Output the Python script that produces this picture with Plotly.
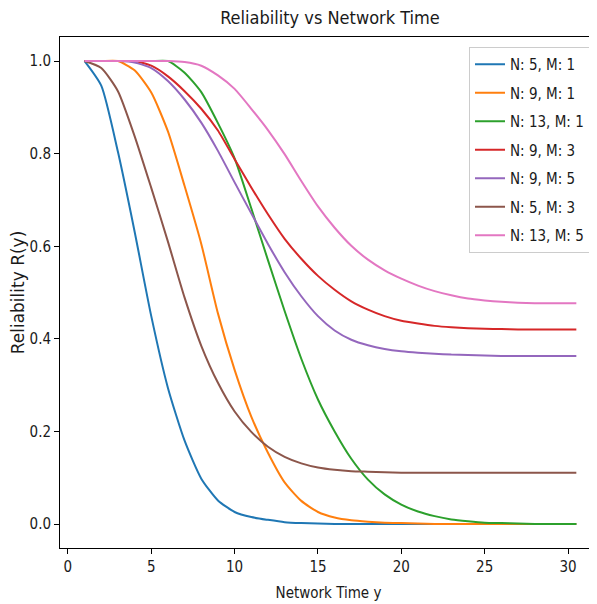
import plotly.graph_objects as go

# Network time values (x axis)
x_vals = list(range(1, 31)) + [30.5]

labels = ["N: 5, M: 1", "N: 9, M: 1", "N: 13, M: 1", "N: 9, M: 3",
          "N: 9, M: 5", "N: 5, M: 3", "N: 13, M: 5"]

r_n5_m1 = [1.0, 0.947, 0.804, 0.632, 0.449, 0.294, 0.180, 0.098, 0.051, 0.026,
           0.015, 0.009, 0.004, 0.002, 0.001, 0.0, 0.0, 0.0, 0.0, 0.0,
           0.0, 0.0, 0.0, 0.0, 0.0, 0.0, 0.0, 0.0, 0.0, 0.0, 0.0]
r_n9_m1 = [1.0, 1.0, 1.0, 0.98, 0.932, 0.848, 0.73, 0.605, 0.455, 0.333,
           0.232, 0.154, 0.09, 0.05, 0.026, 0.014, 0.008, 0.005, 0.003, 0.002,
           0.001, 0.0, 0.0, 0.0, 0.0, 0.0, 0.0, 0.0, 0.0, 0.0, 0.0]
r_n13_m1 = [1.0, 1.0, 1.0, 1.0, 1.0, 1.0, 0.975, 0.933, 0.866, 0.79,
            0.682, 0.57, 0.46, 0.357, 0.269, 0.2, 0.141, 0.096, 0.064, 0.042,
            0.027, 0.017, 0.01, 0.006, 0.003, 0.002, 0.001, 0.0, 0.0, 0.0, 0.0]
r_n9_m3 = [1.0, 1.0, 1.0, 1.0, 0.99, 0.967, 0.935, 0.897, 0.85, 0.788,
           0.727, 0.669, 0.616, 0.573, 0.536, 0.506, 0.481, 0.463, 0.449, 0.439,
           0.433, 0.428, 0.425, 0.423, 0.422, 0.421, 0.42, 0.42, 0.42, 0.42, 0.42]
r_n9_m5 = [1.0, 1.0, 1.0, 0.997, 0.985, 0.957, 0.917, 0.867, 0.806, 0.738,
           0.671, 0.605, 0.544, 0.492, 0.449, 0.418, 0.398, 0.386, 0.378, 0.373,
           0.37, 0.368, 0.366, 0.365, 0.364, 0.363, 0.363, 0.363, 0.363, 0.363, 0.363]
r_n5_m3 = [1.0, 0.985, 0.935, 0.838, 0.726, 0.61, 0.489, 0.385, 0.305, 0.243,
           0.199, 0.167, 0.145, 0.131, 0.122, 0.117, 0.114, 0.113, 0.112, 0.111,
           0.111, 0.111, 0.111, 0.111, 0.111, 0.111, 0.111, 0.111, 0.111, 0.111, 0.111]
r_n13_m5 = [1.0, 1.0, 1.0, 1.0, 1.0, 1.0, 0.998, 0.99, 0.969, 0.94,
            0.897, 0.851, 0.799, 0.741, 0.686, 0.64, 0.601, 0.571, 0.548, 0.53,
            0.515, 0.503, 0.494, 0.487, 0.483, 0.48, 0.478, 0.477, 0.477, 0.477, 0.477]

series = [r_n5_m1, r_n9_m1, r_n13_m1, r_n9_m3, r_n9_m5, r_n5_m3, r_n13_m5]
colors = ["#1f77b4", "#ff7f0e", "#2ca02c", "#d62728", "#9467bd", "#8c564b", "#e377c2"]

x_ticks = [0, 5, 10, 15, 20, 25, 30]
y_ticks = [0.0, 0.2, 0.4, 0.6, 0.8, 1.0]

FONT = "DejaVu Sans Condensed, DejaVu Sans, sans-serif"
TXT = "#1a1a1a"

# the page body adds an 8px margin, so the figure is 8px smaller each way
W, H = 589, 596
ML, MT, MB = 52, 29, 56
PW = W - ML

fig = go.Figure()
for i, (lab, vals, col) in enumerate(zip(labels, series, colors)):
    fig.add_trace(go.Scatter(
        x=x_vals, y=vals, mode="lines", name=lab,
        line=dict(color=col, width=2, shape="spline", smoothing=0.6),
        legendgroup=f"g{i}",
    ))

fig.update_layout(
    width=W, height=H,
    margin=dict(l=ML, r=0, t=MT, b=MB, autoexpand=False),
    paper_bgcolor="white", plot_bgcolor="white",
    font=dict(family=FONT, size=15, color=TXT),
    title=dict(text="Reliability vs Network Time", x=322 / W, xanchor="center",
               y=1 - 10 / H, yanchor="middle",
               font=dict(family=FONT, size=18, color=TXT)),
    legend=dict(
        x=(461 - ML) / PW, xanchor="left", y=1 - 10 / (H - MT - MB), yanchor="top",
        bgcolor="rgba(255,255,255,0.8)", bordercolor="#cccccc", borderwidth=1,
        font=dict(family=FONT, size=15, color=TXT),
        tracegroupgap=6, itemwidth=30,
    ),
    showlegend=True,
)

fig.update_xaxes(
    range=[-0.475, 31.74], tickvals=x_ticks, ticktext=[str(v) for v in x_ticks],
    showgrid=False, zeroline=False, automargin=False,
    showline=True, linecolor="black", linewidth=1, mirror=True,
    ticks="outside", ticklen=5, tickcolor="black",
    tickfont=dict(family=FONT, size=15, color=TXT),
    title=dict(text="Network Time y", standoff=12,
               font=dict(family=FONT, size=15, color=TXT)),
)
fig.update_yaxes(
    range=[-0.0518, 1.052], tickvals=y_ticks, ticktext=[f"{v:.1f}" for v in y_ticks],
    showgrid=False, zeroline=False, automargin=False,
    showline=True, linecolor="black", linewidth=1, mirror=False,
    ticks="outside", ticklen=5, tickcolor="black",
    tickfont=dict(family=FONT, size=15, color=TXT),
    title=dict(text="Reliability R(y)", standoff=2,
               font=dict(family="DejaVu Sans, sans-serif", size=17, color=TXT)),
)

fig.write_html("out.html")
